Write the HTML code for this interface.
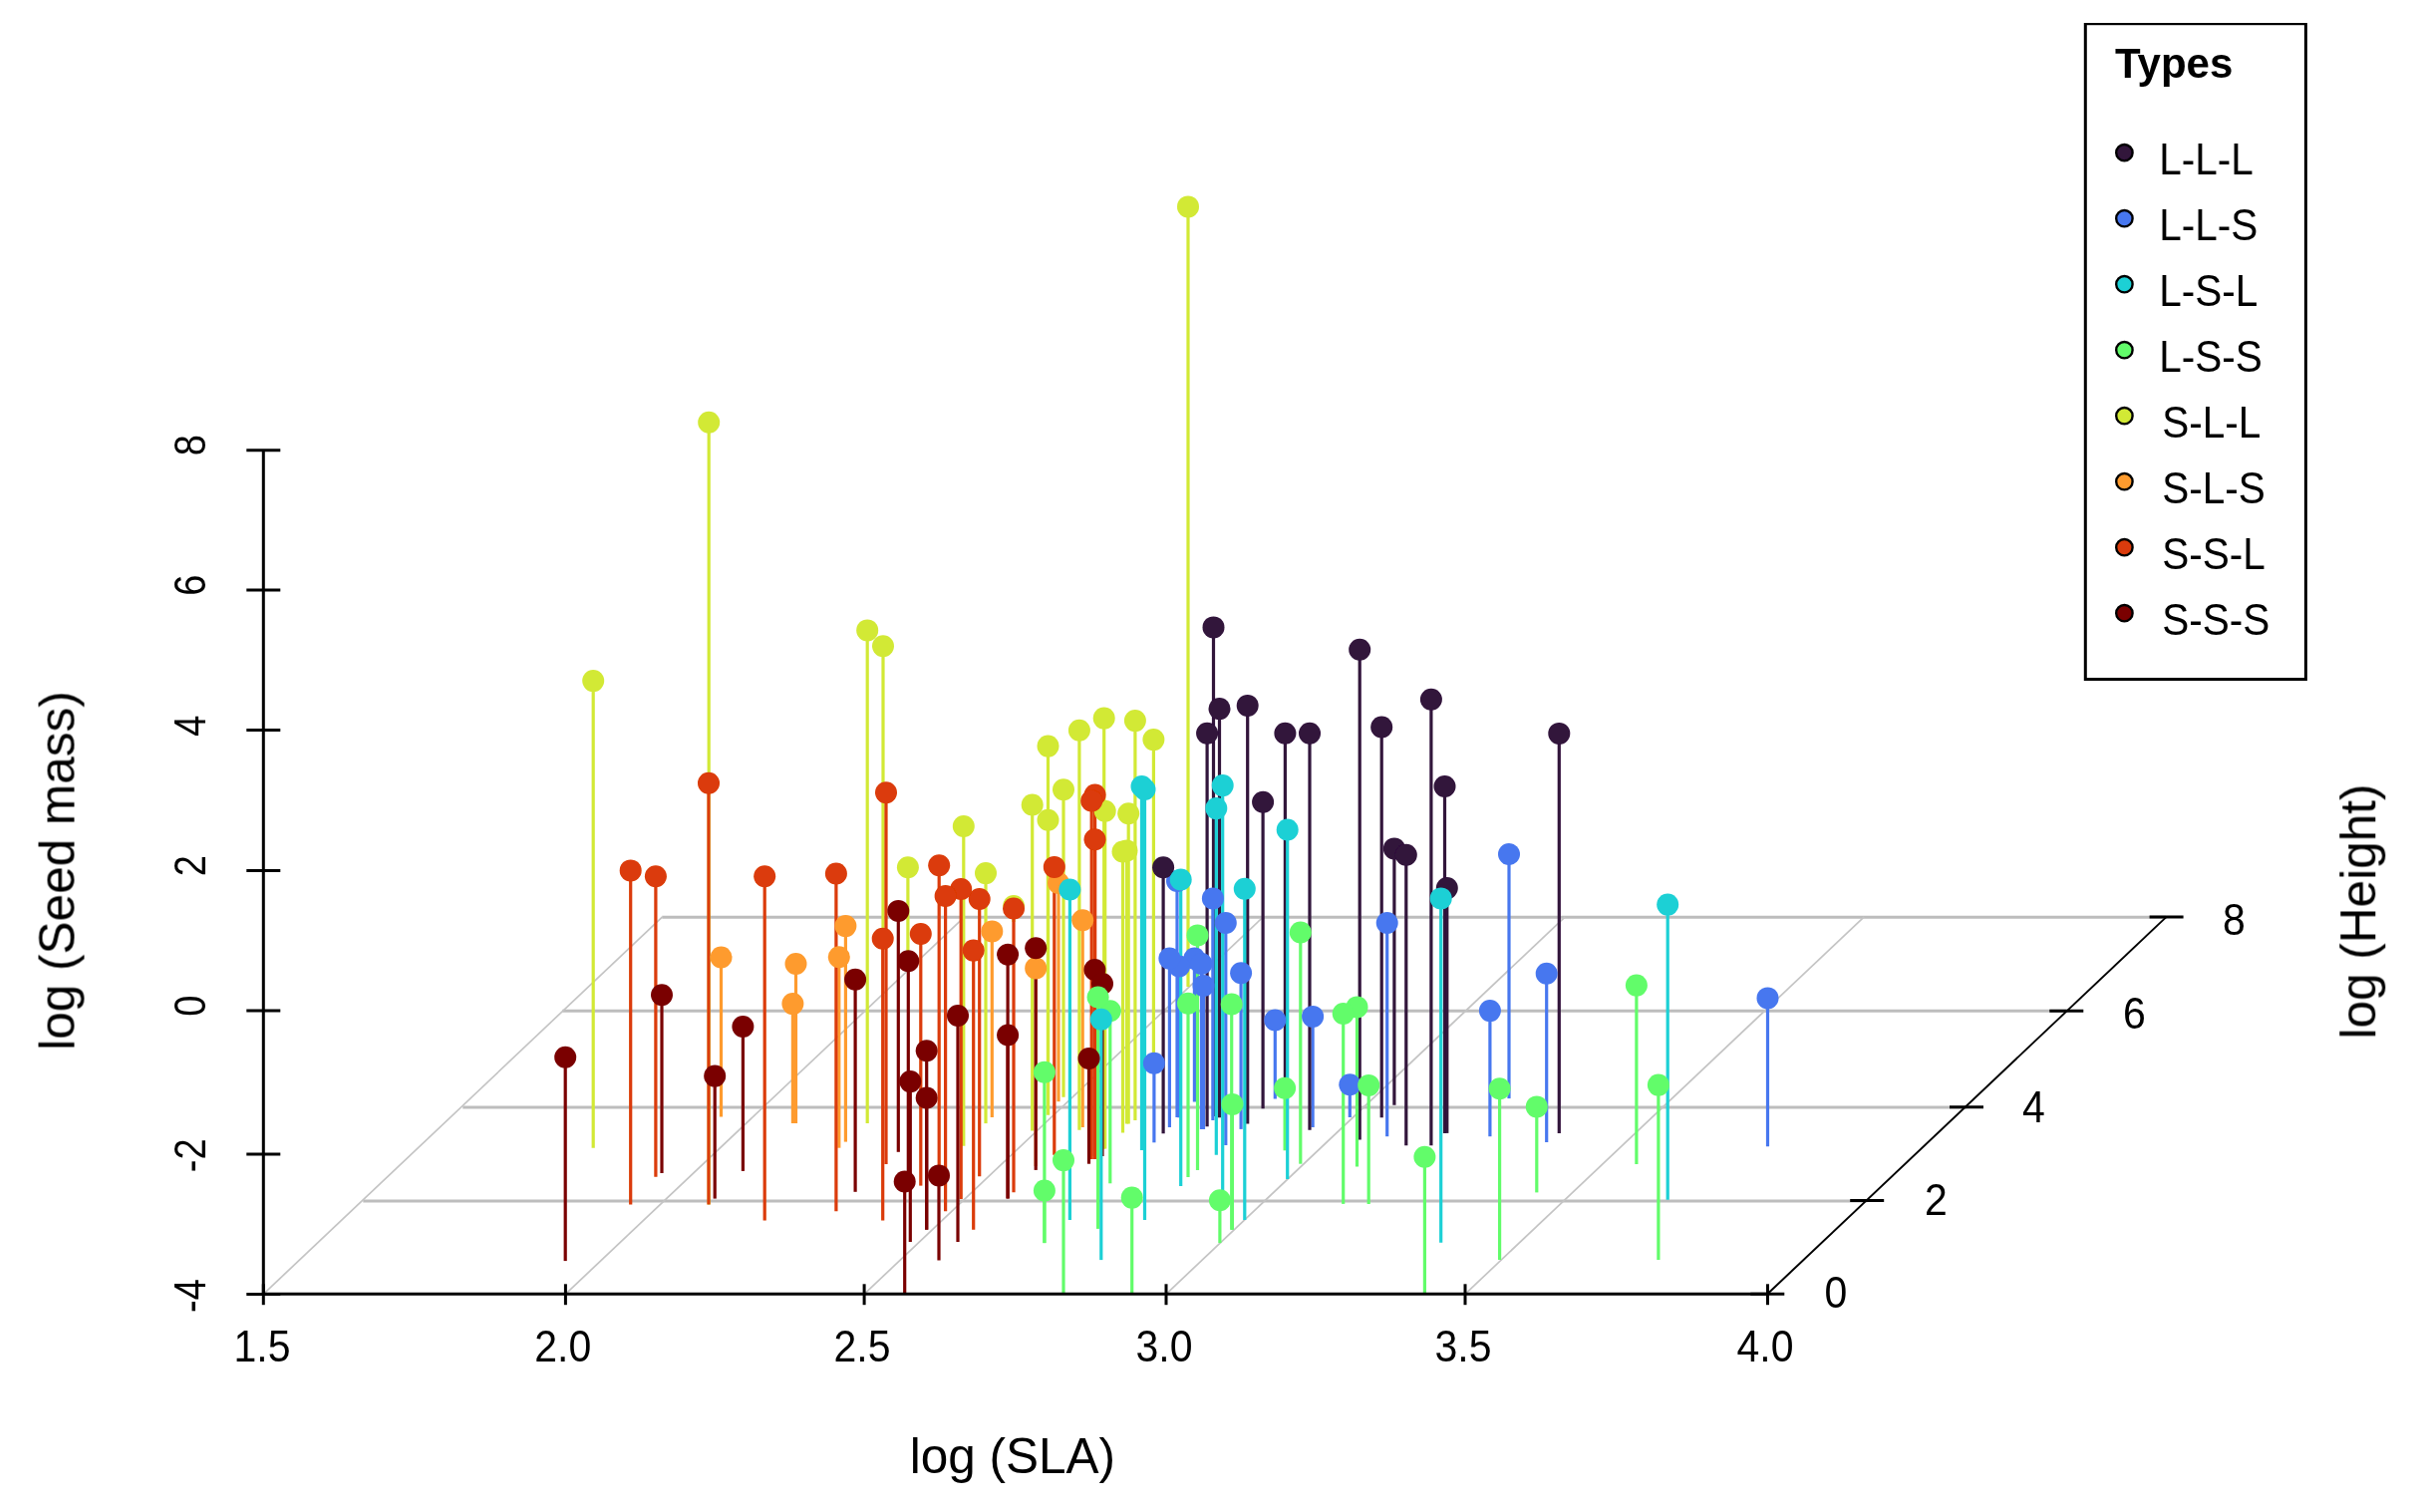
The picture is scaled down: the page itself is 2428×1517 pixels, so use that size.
<!DOCTYPE html>
<html><head><meta charset="utf-8"><style>
html,body{margin:0;padding:0;background:#fff;}
svg{display:block;}
text{font-family:"Liberation Sans", sans-serif;fill:#000;}
</style></head><body>
<svg width="2428" height="1517" viewBox="0 0 2428 1517">
<defs><filter id="soft" x="0" y="0" width="100%" height="100%"><feGaussianBlur stdDeviation="0.45"/></filter></defs>
<rect width="2428" height="1517" fill="#fff"/>
<g filter="url(#soft)">
<line x1="364.3" y1="1205.0" x2="1873.3" y2="1205.0" stroke="#BDBDBD" stroke-width="3.0"/>
<line x1="464.3" y1="1110.9" x2="1973.3" y2="1110.9" stroke="#BDBDBD" stroke-width="3.0"/>
<line x1="564.3" y1="1014.2" x2="2073.3" y2="1014.2" stroke="#BDBDBD" stroke-width="3.0"/>
<line x1="664.3" y1="920.3" x2="2173.3" y2="920.3" stroke="#BDBDBD" stroke-width="3.0"/>
<line x1="264.3" y1="1298.3" x2="664.6" y2="919.9" stroke="#C4C4C4" stroke-width="1.7"/>
<line x1="567.4" y1="1298.3" x2="967.7" y2="919.9" stroke="#C4C4C4" stroke-width="1.7"/>
<line x1="867.1" y1="1298.3" x2="1267.4" y2="919.9" stroke="#C4C4C4" stroke-width="1.7"/>
<line x1="1170.0" y1="1298.3" x2="1570.3" y2="919.9" stroke="#C4C4C4" stroke-width="1.7"/>
<line x1="1470.0" y1="1298.3" x2="1870.3" y2="919.9" stroke="#C4C4C4" stroke-width="1.7"/>
<line x1="1017" y1="909" x2="1017" y2="925" stroke="#D2E935" stroke-width="3.2"/>
<line x1="886" y1="648.3" x2="886" y2="935" stroke="#D2E935" stroke-width="3.2"/>
<line x1="910.9" y1="870.2" x2="910.9" y2="955" stroke="#D2E935" stroke-width="3.2"/>
<line x1="1192" y1="207.4" x2="1192" y2="990" stroke="#D2E935" stroke-width="3.2"/>
<line x1="1157.4" y1="742.1" x2="1157.4" y2="1060" stroke="#D2E935" stroke-width="3.2"/>
<line x1="1289.4" y1="735.7" x2="1289.4" y2="1090" stroke="#30123B" stroke-width="3.2"/>
<line x1="1067" y1="792.2" x2="1067" y2="1100.7" stroke="#D2E935" stroke-width="3.2"/>
<line x1="1514" y1="857" x2="1514" y2="1102.1" stroke="#4777EF" stroke-width="3.2"/>
<line x1="1279.3" y1="1023.5" x2="1279.3" y2="1102.5" stroke="#4777EF" stroke-width="3.2"/>
<line x1="1062" y1="886" x2="1062" y2="1105.2" stroke="#FE9B2D" stroke-width="3.2"/>
<line x1="1198.4" y1="961.6" x2="1198.4" y2="1105.5" stroke="#4777EF" stroke-width="3.2"/>
<line x1="1398.9" y1="851.4" x2="1398.9" y2="1108.8" stroke="#30123B" stroke-width="3.2"/>
<line x1="1267.1" y1="804.8" x2="1267.1" y2="1112.3" stroke="#30123B" stroke-width="3.2"/>
<line x1="1051.5" y1="748.6" x2="1051.5" y2="1118.6" stroke="#D2E935" stroke-width="3.2"/>
<line x1="1051.5" y1="822.8" x2="1051.5" y2="1118.6" stroke="#D2E935" stroke-width="3.2"/>
<line x1="1217.5" y1="629.4" x2="1217.5" y2="1120" stroke="#30123B" stroke-width="3.2"/>
<line x1="723.5" y1="960.5" x2="723.5" y2="1120.4" stroke="#FE9B2D" stroke-width="3.2"/>
<line x1="1354.3" y1="1088.2" x2="1354.3" y2="1121" stroke="#4777EF" stroke-width="3.2"/>
<line x1="1181" y1="884" x2="1181" y2="1121" stroke="#4777EF" stroke-width="3.2"/>
<line x1="995.3" y1="934.4" x2="995.3" y2="1121" stroke="#FE9B2D" stroke-width="3.2"/>
<line x1="1386.2" y1="729.5" x2="1386.2" y2="1121.2" stroke="#30123B" stroke-width="3.2"/>
<line x1="1223.5" y1="711.1" x2="1223.5" y2="1121.3" stroke="#30123B" stroke-width="3.2"/>
<line x1="1183" y1="969.5" x2="1183" y2="1121.3" stroke="#4777EF" stroke-width="3.2"/>
<line x1="1138.9" y1="723.1" x2="1138.9" y2="1123.9" stroke="#D2E935" stroke-width="3.2"/>
<line x1="1216.9" y1="901.4" x2="1216.9" y2="1124" stroke="#4777EF" stroke-width="3.2"/>
<line x1="798.5" y1="967" x2="798.5" y2="1127" stroke="#FE9B2D" stroke-width="3.2"/>
<line x1="795.4" y1="1007.1" x2="795.4" y2="1127" stroke="#FE9B2D" stroke-width="3.2"/>
<line x1="870.2" y1="632.4" x2="870.2" y2="1127.1" stroke="#D2E935" stroke-width="3.2"/>
<line x1="989" y1="876.1" x2="989" y2="1127.1" stroke="#D2E935" stroke-width="3.2"/>
<line x1="1251.7" y1="707.9" x2="1251.7" y2="1127.5" stroke="#30123B" stroke-width="3.2"/>
<line x1="1132.2" y1="816.3" x2="1132.2" y2="1127.5" stroke="#D2E935" stroke-width="3.2"/>
<line x1="1130.5" y1="853.5" x2="1130.5" y2="1127.5" stroke="#D2E935" stroke-width="3.2"/>
<line x1="1211.1" y1="735.7" x2="1211.1" y2="1130.2" stroke="#30123B" stroke-width="3.2"/>
<line x1="1173.4" y1="961.6" x2="1173.4" y2="1131" stroke="#4777EF" stroke-width="3.2"/>
<line x1="1317.1" y1="1019.9" x2="1317.1" y2="1131" stroke="#4777EF" stroke-width="3.2"/>
<line x1="1086.2" y1="923.3" x2="1086.2" y2="1131" stroke="#FE9B2D" stroke-width="3.2"/>
<line x1="1205.5" y1="967" x2="1205.5" y2="1132.9" stroke="#4777EF" stroke-width="3.2"/>
<line x1="1207.5" y1="989" x2="1207.5" y2="1132.9" stroke="#4777EF" stroke-width="3.2"/>
<line x1="1245.1" y1="976.2" x2="1245.1" y2="1132.9" stroke="#4777EF" stroke-width="3.2"/>
<line x1="1314" y1="735.7" x2="1314" y2="1133.8" stroke="#30123B" stroke-width="3.2"/>
<line x1="1082.9" y1="732.7" x2="1082.9" y2="1133.8" stroke="#D2E935" stroke-width="3.2"/>
<line x1="1035.7" y1="807.5" x2="1035.7" y2="1134.6" stroke="#D2E935" stroke-width="3.2"/>
<line x1="1126.5" y1="854.5" x2="1126.5" y2="1136.4" stroke="#D2E935" stroke-width="3.2"/>
<line x1="1564.3" y1="735.9" x2="1564.3" y2="1136.9" stroke="#30123B" stroke-width="3.2"/>
<line x1="1449.5" y1="789" x2="1449.5" y2="1136.9" stroke="#30123B" stroke-width="3.2"/>
<line x1="1451.8" y1="891.1" x2="1451.8" y2="1136.9" stroke="#30123B" stroke-width="3.2"/>
<line x1="1167.1" y1="870.2" x2="1167.1" y2="1137.3" stroke="#30123B" stroke-width="3.2"/>
<line x1="1391.7" y1="926" x2="1391.7" y2="1140.2" stroke="#4777EF" stroke-width="3.2"/>
<line x1="1494.9" y1="1014.1" x2="1494.9" y2="1140.2" stroke="#4777EF" stroke-width="3.2"/>
<line x1="1364.2" y1="651.7" x2="1364.2" y2="1143.6" stroke="#30123B" stroke-width="3.2"/>
<line x1="848.4" y1="929.1" x2="848.4" y2="1145.6" stroke="#FE9B2D" stroke-width="3.2"/>
<line x1="1551.7" y1="976.8" x2="1551.7" y2="1146" stroke="#4777EF" stroke-width="3.2"/>
<line x1="1157.9" y1="1066.8" x2="1157.9" y2="1146.3" stroke="#4777EF" stroke-width="3.2"/>
<line x1="1229.8" y1="926" x2="1229.8" y2="1149" stroke="#4777EF" stroke-width="3.2"/>
<line x1="1435.9" y1="701.7" x2="1435.9" y2="1149.3" stroke="#30123B" stroke-width="3.2"/>
<line x1="1410.8" y1="857.8" x2="1410.8" y2="1149.3" stroke="#30123B" stroke-width="3.2"/>
<line x1="966.8" y1="829" x2="966.8" y2="1149.7" stroke="#D2E935" stroke-width="3.2"/>
<line x1="1773.5" y1="1001.4" x2="1773.5" y2="1150.2" stroke="#4777EF" stroke-width="3.2"/>
<line x1="595.2" y1="683.1" x2="595.2" y2="1151.7" stroke="#D2E935" stroke-width="3.2"/>
<line x1="841.8" y1="960.3" x2="841.8" y2="1151.7" stroke="#FE9B2D" stroke-width="3.2"/>
<line x1="1107.7" y1="720.6" x2="1107.7" y2="1152.5" stroke="#D2E935" stroke-width="3.2"/>
<line x1="1108.7" y1="813.8" x2="1108.7" y2="1152.5" stroke="#D2E935" stroke-width="3.2"/>
<line x1="1145.5" y1="789" x2="1145.5" y2="1154" stroke="#1BD0D5" stroke-width="3.2"/>
<line x1="1289.1" y1="1091.8" x2="1289.1" y2="1154.3" stroke="#62FC6B" stroke-width="3.2"/>
<line x1="901.3" y1="913.9" x2="901.3" y2="1155.8" stroke="#7A0403" stroke-width="3.2"/>
<line x1="1220.3" y1="811.1" x2="1220.3" y2="1158.8" stroke="#1BD0D5" stroke-width="3.2"/>
<line x1="1057.8" y1="869.9" x2="1057.8" y2="1158.8" stroke="#DB3A07" stroke-width="3.2"/>
<line x1="1098.4" y1="973" x2="1098.4" y2="1160" stroke="#7A0403" stroke-width="3.2"/>
<line x1="1106" y1="987" x2="1106" y2="1160" stroke="#7A0403" stroke-width="3.2"/>
<line x1="1098.6" y1="797.5" x2="1098.6" y2="1163" stroke="#DB3A07" stroke-width="3.2"/>
<line x1="1095.2" y1="803.5" x2="1095.2" y2="1163" stroke="#DB3A07" stroke-width="3.2"/>
<line x1="1098.5" y1="842.2" x2="1098.5" y2="1163" stroke="#DB3A07" stroke-width="3.2"/>
<line x1="1304.8" y1="935.5" x2="1304.8" y2="1167.7" stroke="#62FC6B" stroke-width="3.2"/>
<line x1="1092.5" y1="1062" x2="1092.5" y2="1167.7" stroke="#7A0403" stroke-width="3.2"/>
<line x1="1641.9" y1="988.6" x2="1641.9" y2="1168" stroke="#62FC6B" stroke-width="3.2"/>
<line x1="889" y1="795.2" x2="889" y2="1168" stroke="#DB3A07" stroke-width="3.2"/>
<line x1="1039.2" y1="971.4" x2="1039.2" y2="1170" stroke="#FE9B2D" stroke-width="3.2"/>
<line x1="942.2" y1="868.3" x2="942.2" y2="1170" stroke="#DB3A07" stroke-width="3.2"/>
<line x1="1361.5" y1="1010.4" x2="1361.5" y2="1170.4" stroke="#62FC6B" stroke-width="3.2"/>
<line x1="1039.2" y1="951.3" x2="1039.2" y2="1173.9" stroke="#7A0403" stroke-width="3.2"/>
<line x1="1201.5" y1="938.4" x2="1201.5" y2="1174" stroke="#62FC6B" stroke-width="3.2"/>
<line x1="745.4" y1="1030" x2="745.4" y2="1174.9" stroke="#7A0403" stroke-width="3.2"/>
<line x1="664" y1="998.2" x2="664" y2="1177" stroke="#7A0403" stroke-width="3.2"/>
<line x1="982.7" y1="902" x2="982.7" y2="1180.3" stroke="#DB3A07" stroke-width="3.2"/>
<line x1="657.9" y1="879.3" x2="657.9" y2="1180.8" stroke="#DB3A07" stroke-width="3.2"/>
<line x1="1192" y1="1006.8" x2="1192" y2="1181" stroke="#62FC6B" stroke-width="3.2"/>
<line x1="1291.7" y1="832.5" x2="1291.7" y2="1182.9" stroke="#1BD0D5" stroke-width="3.2"/>
<line x1="911.3" y1="964.2" x2="911.3" y2="1185" stroke="#7A0403" stroke-width="3.2"/>
<line x1="1113.8" y1="1014.3" x2="1113.8" y2="1187.3" stroke="#62FC6B" stroke-width="3.2"/>
<line x1="923.8" y1="937" x2="923.8" y2="1189.6" stroke="#DB3A07" stroke-width="3.2"/>
<line x1="1184.7" y1="882.5" x2="1184.7" y2="1190" stroke="#1BD0D5" stroke-width="3.2"/>
<line x1="1226.7" y1="788.1" x2="1226.7" y2="1195.4" stroke="#1BD0D5" stroke-width="3.2"/>
<line x1="858.1" y1="982.7" x2="858.1" y2="1195.8" stroke="#7A0403" stroke-width="3.2"/>
<line x1="1017" y1="911.5" x2="1017" y2="1196.3" stroke="#DB3A07" stroke-width="3.2"/>
<line x1="1541.8" y1="1110.4" x2="1541.8" y2="1196.4" stroke="#62FC6B" stroke-width="3.2"/>
<line x1="1011.1" y1="957.7" x2="1011.1" y2="1202.5" stroke="#7A0403" stroke-width="3.2"/>
<line x1="1011.1" y1="1038.5" x2="1011.1" y2="1202.5" stroke="#7A0403" stroke-width="3.2"/>
<line x1="717.2" y1="1079.6" x2="717.2" y2="1202.6" stroke="#7A0403" stroke-width="3.2"/>
<line x1="964.2" y1="892" x2="964.2" y2="1203" stroke="#DB3A07" stroke-width="3.2"/>
<line x1="1673.2" y1="907.6" x2="1673.2" y2="1203.8" stroke="#1BD0D5" stroke-width="3.2"/>
<line x1="1347.7" y1="1017" x2="1347.7" y2="1207.9" stroke="#62FC6B" stroke-width="3.2"/>
<line x1="1373.2" y1="1088.9" x2="1373.2" y2="1208" stroke="#62FC6B" stroke-width="3.2"/>
<line x1="711.2" y1="423.7" x2="711.2" y2="1208.4" stroke="#D2E935" stroke-width="3.2"/>
<line x1="711" y1="785.7" x2="711" y2="1208.4" stroke="#DB3A07" stroke-width="3.2"/>
<line x1="632.7" y1="873.4" x2="632.7" y2="1208.4" stroke="#DB3A07" stroke-width="3.2"/>
<line x1="838.9" y1="876.5" x2="838.9" y2="1215.3" stroke="#DB3A07" stroke-width="3.2"/>
<line x1="948.6" y1="899" x2="948.6" y2="1215.3" stroke="#DB3A07" stroke-width="3.2"/>
<line x1="1073.4" y1="892.5" x2="1073.4" y2="1223.9" stroke="#1BD0D5" stroke-width="3.2"/>
<line x1="1148.5" y1="792" x2="1148.5" y2="1224" stroke="#1BD0D5" stroke-width="3.2"/>
<line x1="1248.8" y1="891.8" x2="1248.8" y2="1224" stroke="#1BD0D5" stroke-width="3.2"/>
<line x1="767.2" y1="879.3" x2="767.2" y2="1224.4" stroke="#DB3A07" stroke-width="3.2"/>
<line x1="885.7" y1="941.7" x2="885.7" y2="1224.5" stroke="#DB3A07" stroke-width="3.2"/>
<line x1="1101.6" y1="1000.5" x2="1101.6" y2="1232.9" stroke="#62FC6B" stroke-width="3.2"/>
<line x1="976.7" y1="953.6" x2="976.7" y2="1233.7" stroke="#DB3A07" stroke-width="3.2"/>
<line x1="929.7" y1="1054.3" x2="929.7" y2="1233.7" stroke="#7A0403" stroke-width="3.2"/>
<line x1="929.7" y1="1101.5" x2="929.7" y2="1233.7" stroke="#7A0403" stroke-width="3.2"/>
<line x1="1235.7" y1="1007.5" x2="1235.7" y2="1233.8" stroke="#62FC6B" stroke-width="3.2"/>
<line x1="1236.4" y1="1107.9" x2="1236.4" y2="1233.8" stroke="#62FC6B" stroke-width="3.2"/>
<line x1="913.3" y1="1085.1" x2="913.3" y2="1246" stroke="#7A0403" stroke-width="3.2"/>
<line x1="961" y1="1019" x2="961" y2="1246" stroke="#7A0403" stroke-width="3.2"/>
<line x1="1445.7" y1="901.4" x2="1445.7" y2="1246.8" stroke="#1BD0D5" stroke-width="3.2"/>
<line x1="1047.9" y1="1075.7" x2="1047.9" y2="1247.1" stroke="#62FC6B" stroke-width="3.2"/>
<line x1="1047.9" y1="1194.5" x2="1047.9" y2="1247.1" stroke="#62FC6B" stroke-width="3.2"/>
<line x1="1223.9" y1="1204.3" x2="1223.9" y2="1247.1" stroke="#62FC6B" stroke-width="3.2"/>
<line x1="1504.6" y1="1092.2" x2="1504.6" y2="1264" stroke="#62FC6B" stroke-width="3.2"/>
<line x1="1663.9" y1="1088.6" x2="1663.9" y2="1264" stroke="#62FC6B" stroke-width="3.2"/>
<line x1="1104.8" y1="1022.8" x2="1104.8" y2="1264.1" stroke="#1BD0D5" stroke-width="3.2"/>
<line x1="942" y1="1179.4" x2="942" y2="1264.5" stroke="#7A0403" stroke-width="3.2"/>
<line x1="567.2" y1="1060.7" x2="567.2" y2="1265.1" stroke="#7A0403" stroke-width="3.2"/>
<line x1="907.7" y1="1185.5" x2="907.7" y2="1297.3" stroke="#7A0403" stroke-width="3.2"/>
<line x1="1429.4" y1="1160.8" x2="1429.4" y2="1298.8" stroke="#62FC6B" stroke-width="3.2"/>
<line x1="1067" y1="1164.1" x2="1067" y2="1298.9" stroke="#62FC6B" stroke-width="3.2"/>
<line x1="1135.7" y1="1201.6" x2="1135.7" y2="1298.9" stroke="#62FC6B" stroke-width="3.2"/>
<circle cx="1017" cy="909" r="11.0" fill="#D2E935"/>
<circle cx="886" cy="648.3" r="11.0" fill="#D2E935"/>
<circle cx="910.9" cy="870.2" r="11.0" fill="#D2E935"/>
<circle cx="1192" cy="207.4" r="11.0" fill="#D2E935"/>
<circle cx="1157.4" cy="742.1" r="11.0" fill="#D2E935"/>
<circle cx="1289.4" cy="735.7" r="11.0" fill="#30123B"/>
<circle cx="1067" cy="792.2" r="11.0" fill="#D2E935"/>
<circle cx="1514" cy="857" r="11.0" fill="#4777EF"/>
<circle cx="1279.3" cy="1023.5" r="11.0" fill="#4777EF"/>
<circle cx="1062" cy="886" r="11.0" fill="#FE9B2D"/>
<circle cx="1198.4" cy="961.6" r="11.0" fill="#4777EF"/>
<circle cx="1398.9" cy="851.4" r="11.0" fill="#30123B"/>
<circle cx="1267.1" cy="804.8" r="11.0" fill="#30123B"/>
<circle cx="1051.5" cy="748.6" r="11.0" fill="#D2E935"/>
<circle cx="1051.5" cy="822.8" r="11.0" fill="#D2E935"/>
<circle cx="1217.5" cy="629.4" r="11.0" fill="#30123B"/>
<circle cx="723.5" cy="960.5" r="11.0" fill="#FE9B2D"/>
<circle cx="1354.3" cy="1088.2" r="11.0" fill="#4777EF"/>
<circle cx="1181" cy="884" r="11.0" fill="#4777EF"/>
<circle cx="995.3" cy="934.4" r="11.0" fill="#FE9B2D"/>
<circle cx="1386.2" cy="729.5" r="11.0" fill="#30123B"/>
<circle cx="1223.5" cy="711.1" r="11.0" fill="#30123B"/>
<circle cx="1183" cy="969.5" r="11.0" fill="#4777EF"/>
<circle cx="1138.9" cy="723.1" r="11.0" fill="#D2E935"/>
<circle cx="1216.9" cy="901.4" r="11.0" fill="#4777EF"/>
<circle cx="798.5" cy="967" r="11.0" fill="#FE9B2D"/>
<circle cx="795.4" cy="1007.1" r="11.0" fill="#FE9B2D"/>
<circle cx="870.2" cy="632.4" r="11.0" fill="#D2E935"/>
<circle cx="989" cy="876.1" r="11.0" fill="#D2E935"/>
<circle cx="1251.7" cy="707.9" r="11.0" fill="#30123B"/>
<circle cx="1132.2" cy="816.3" r="11.0" fill="#D2E935"/>
<circle cx="1130.5" cy="853.5" r="11.0" fill="#D2E935"/>
<circle cx="1211.1" cy="735.7" r="11.0" fill="#30123B"/>
<circle cx="1173.4" cy="961.6" r="11.0" fill="#4777EF"/>
<circle cx="1317.1" cy="1019.9" r="11.0" fill="#4777EF"/>
<circle cx="1086.2" cy="923.3" r="11.0" fill="#FE9B2D"/>
<circle cx="1205.5" cy="967" r="11.0" fill="#4777EF"/>
<circle cx="1207.5" cy="989" r="11.0" fill="#4777EF"/>
<circle cx="1245.1" cy="976.2" r="11.0" fill="#4777EF"/>
<circle cx="1314" cy="735.7" r="11.0" fill="#30123B"/>
<circle cx="1082.9" cy="732.7" r="11.0" fill="#D2E935"/>
<circle cx="1035.7" cy="807.5" r="11.0" fill="#D2E935"/>
<circle cx="1126.5" cy="854.5" r="11.0" fill="#D2E935"/>
<circle cx="1564.3" cy="735.9" r="11.0" fill="#30123B"/>
<circle cx="1449.5" cy="789" r="11.0" fill="#30123B"/>
<circle cx="1451.8" cy="891.1" r="11.0" fill="#30123B"/>
<circle cx="1167.1" cy="870.2" r="11.0" fill="#30123B"/>
<circle cx="1391.7" cy="926" r="11.0" fill="#4777EF"/>
<circle cx="1494.9" cy="1014.1" r="11.0" fill="#4777EF"/>
<circle cx="1364.2" cy="651.7" r="11.0" fill="#30123B"/>
<circle cx="848.4" cy="929.1" r="11.0" fill="#FE9B2D"/>
<circle cx="1551.7" cy="976.8" r="11.0" fill="#4777EF"/>
<circle cx="1157.9" cy="1066.8" r="11.0" fill="#4777EF"/>
<circle cx="1229.8" cy="926" r="11.0" fill="#4777EF"/>
<circle cx="1435.9" cy="701.7" r="11.0" fill="#30123B"/>
<circle cx="1410.8" cy="857.8" r="11.0" fill="#30123B"/>
<circle cx="966.8" cy="829" r="11.0" fill="#D2E935"/>
<circle cx="1773.5" cy="1001.4" r="11.0" fill="#4777EF"/>
<circle cx="595.2" cy="683.1" r="11.0" fill="#D2E935"/>
<circle cx="841.8" cy="960.3" r="11.0" fill="#FE9B2D"/>
<circle cx="1107.7" cy="720.6" r="11.0" fill="#D2E935"/>
<circle cx="1108.7" cy="813.8" r="11.0" fill="#D2E935"/>
<circle cx="1145.5" cy="789" r="11.0" fill="#1BD0D5"/>
<circle cx="1289.1" cy="1091.8" r="11.0" fill="#62FC6B"/>
<circle cx="901.3" cy="913.9" r="11.0" fill="#7A0403"/>
<circle cx="1220.3" cy="811.1" r="11.0" fill="#1BD0D5"/>
<circle cx="1057.8" cy="869.9" r="11.0" fill="#DB3A07"/>
<circle cx="1098.4" cy="973" r="11.0" fill="#7A0403"/>
<circle cx="1106" cy="987" r="11.0" fill="#7A0403"/>
<circle cx="1098.6" cy="797.5" r="11.0" fill="#DB3A07"/>
<circle cx="1095.2" cy="803.5" r="11.0" fill="#DB3A07"/>
<circle cx="1098.5" cy="842.2" r="11.0" fill="#DB3A07"/>
<circle cx="1304.8" cy="935.5" r="11.0" fill="#62FC6B"/>
<circle cx="1092.5" cy="1062" r="11.0" fill="#7A0403"/>
<circle cx="1641.9" cy="988.6" r="11.0" fill="#62FC6B"/>
<circle cx="889" cy="795.2" r="11.0" fill="#DB3A07"/>
<circle cx="1039.2" cy="971.4" r="11.0" fill="#FE9B2D"/>
<circle cx="942.2" cy="868.3" r="11.0" fill="#DB3A07"/>
<circle cx="1361.5" cy="1010.4" r="11.0" fill="#62FC6B"/>
<circle cx="1039.2" cy="951.3" r="11.0" fill="#7A0403"/>
<circle cx="1201.5" cy="938.4" r="11.0" fill="#62FC6B"/>
<circle cx="745.4" cy="1030" r="11.0" fill="#7A0403"/>
<circle cx="664" cy="998.2" r="11.0" fill="#7A0403"/>
<circle cx="982.7" cy="902" r="11.0" fill="#DB3A07"/>
<circle cx="657.9" cy="879.3" r="11.0" fill="#DB3A07"/>
<circle cx="1192" cy="1006.8" r="11.0" fill="#62FC6B"/>
<circle cx="1291.7" cy="832.5" r="11.0" fill="#1BD0D5"/>
<circle cx="911.3" cy="964.2" r="11.0" fill="#7A0403"/>
<circle cx="1113.8" cy="1014.3" r="11.0" fill="#62FC6B"/>
<circle cx="923.8" cy="937" r="11.0" fill="#DB3A07"/>
<circle cx="1184.7" cy="882.5" r="11.0" fill="#1BD0D5"/>
<circle cx="1226.7" cy="788.1" r="11.0" fill="#1BD0D5"/>
<circle cx="858.1" cy="982.7" r="11.0" fill="#7A0403"/>
<circle cx="1017" cy="911.5" r="11.0" fill="#DB3A07"/>
<circle cx="1541.8" cy="1110.4" r="11.0" fill="#62FC6B"/>
<circle cx="1011.1" cy="957.7" r="11.0" fill="#7A0403"/>
<circle cx="1011.1" cy="1038.5" r="11.0" fill="#7A0403"/>
<circle cx="717.2" cy="1079.6" r="11.0" fill="#7A0403"/>
<circle cx="964.2" cy="892" r="11.0" fill="#DB3A07"/>
<circle cx="1673.2" cy="907.6" r="11.0" fill="#1BD0D5"/>
<circle cx="1347.7" cy="1017" r="11.0" fill="#62FC6B"/>
<circle cx="1373.2" cy="1088.9" r="11.0" fill="#62FC6B"/>
<circle cx="711.2" cy="423.7" r="11.0" fill="#D2E935"/>
<circle cx="711" cy="785.7" r="11.0" fill="#DB3A07"/>
<circle cx="632.7" cy="873.4" r="11.0" fill="#DB3A07"/>
<circle cx="838.9" cy="876.5" r="11.0" fill="#DB3A07"/>
<circle cx="948.6" cy="899" r="11.0" fill="#DB3A07"/>
<circle cx="1073.4" cy="892.5" r="11.0" fill="#1BD0D5"/>
<circle cx="1148.5" cy="792" r="11.0" fill="#1BD0D5"/>
<circle cx="1248.8" cy="891.8" r="11.0" fill="#1BD0D5"/>
<circle cx="767.2" cy="879.3" r="11.0" fill="#DB3A07"/>
<circle cx="885.7" cy="941.7" r="11.0" fill="#DB3A07"/>
<circle cx="1101.6" cy="1000.5" r="11.0" fill="#62FC6B"/>
<circle cx="976.7" cy="953.6" r="11.0" fill="#DB3A07"/>
<circle cx="929.7" cy="1054.3" r="11.0" fill="#7A0403"/>
<circle cx="929.7" cy="1101.5" r="11.0" fill="#7A0403"/>
<circle cx="1235.7" cy="1007.5" r="11.0" fill="#62FC6B"/>
<circle cx="1236.4" cy="1107.9" r="11.0" fill="#62FC6B"/>
<circle cx="913.3" cy="1085.1" r="11.0" fill="#7A0403"/>
<circle cx="961" cy="1019" r="11.0" fill="#7A0403"/>
<circle cx="1445.7" cy="901.4" r="11.0" fill="#1BD0D5"/>
<circle cx="1047.9" cy="1075.7" r="11.0" fill="#62FC6B"/>
<circle cx="1047.9" cy="1194.5" r="11.0" fill="#62FC6B"/>
<circle cx="1223.9" cy="1204.3" r="11.0" fill="#62FC6B"/>
<circle cx="1504.6" cy="1092.2" r="11.0" fill="#62FC6B"/>
<circle cx="1663.9" cy="1088.6" r="11.0" fill="#62FC6B"/>
<circle cx="1104.8" cy="1022.8" r="11.0" fill="#1BD0D5"/>
<circle cx="942" cy="1179.4" r="11.0" fill="#7A0403"/>
<circle cx="567.2" cy="1060.7" r="11.0" fill="#7A0403"/>
<circle cx="907.7" cy="1185.5" r="11.0" fill="#7A0403"/>
<circle cx="1429.4" cy="1160.8" r="11.0" fill="#62FC6B"/>
<circle cx="1067" cy="1164.1" r="11.0" fill="#62FC6B"/>
<circle cx="1135.7" cy="1201.6" r="11.0" fill="#62FC6B"/>
<line x1="264.3" y1="451.7" x2="264.3" y2="1298.3" stroke="#000" stroke-width="3.0"/>
<line x1="247.3" y1="451.7" x2="281.3" y2="451.7" stroke="#000" stroke-width="3.0"/>
<line x1="247.3" y1="592.0" x2="281.3" y2="592.0" stroke="#000" stroke-width="3.0"/>
<line x1="247.3" y1="732.6" x2="281.3" y2="732.6" stroke="#000" stroke-width="3.0"/>
<line x1="247.3" y1="873.5" x2="281.3" y2="873.5" stroke="#000" stroke-width="3.0"/>
<line x1="247.3" y1="1014.1" x2="281.3" y2="1014.1" stroke="#000" stroke-width="3.0"/>
<line x1="247.3" y1="1158.0" x2="281.3" y2="1158.0" stroke="#000" stroke-width="3.0"/>
<line x1="247.3" y1="1298.4" x2="281.3" y2="1298.4" stroke="#000" stroke-width="3.0"/>
<line x1="264.3" y1="1298.3" x2="1773.3" y2="1298.3" stroke="#000" stroke-width="3.0"/>
<line x1="264.3" y1="1288.3" x2="264.3" y2="1309.2" stroke="#000" stroke-width="3.0"/>
<line x1="567.4" y1="1288.3" x2="567.4" y2="1309.2" stroke="#000" stroke-width="3.0"/>
<line x1="867.1" y1="1288.3" x2="867.1" y2="1309.2" stroke="#000" stroke-width="3.0"/>
<line x1="1170.0" y1="1288.3" x2="1170.0" y2="1309.2" stroke="#000" stroke-width="3.0"/>
<line x1="1470.0" y1="1288.3" x2="1470.0" y2="1309.2" stroke="#000" stroke-width="3.0"/>
<line x1="1773.5" y1="1288.3" x2="1773.5" y2="1309.2" stroke="#000" stroke-width="3.0"/>
<line x1="1773.3" y1="1298.3" x2="2173.6" y2="919.9" stroke="#000" stroke-width="1.9"/>
<line x1="1756.3" y1="1298.3" x2="1790.3" y2="1298.3" stroke="#000" stroke-width="3.0"/>
<line x1="1856.2" y1="1204.5" x2="1890.2" y2="1204.5" stroke="#000" stroke-width="3.0"/>
<line x1="1956.0" y1="1110.7" x2="1990.0" y2="1110.7" stroke="#000" stroke-width="3.0"/>
<line x1="2056.3" y1="1014.2" x2="2090.3" y2="1014.2" stroke="#000" stroke-width="3.0"/>
<line x1="2156.6" y1="919.9" x2="2190.6" y2="919.9" stroke="#000" stroke-width="3.0"/>
<text transform="translate(263.0,1366.0) scale(1,1.1)" font-size="41" text-anchor="middle" font-weight="normal">1.5</text>
<text transform="translate(564.8,1366.0) scale(1,1.1)" font-size="41" text-anchor="middle" font-weight="normal">2.0</text>
<text transform="translate(865.0,1366.0) scale(1,1.1)" font-size="41" text-anchor="middle" font-weight="normal">2.5</text>
<text transform="translate(1168.0,1366.0) scale(1,1.1)" font-size="41" text-anchor="middle" font-weight="normal">3.0</text>
<text transform="translate(1468.0,1366.0) scale(1,1.1)" font-size="41" text-anchor="middle" font-weight="normal">3.5</text>
<text transform="translate(1771.0,1366.0) scale(1,1.1)" font-size="41" text-anchor="middle" font-weight="normal">4.0</text>
<text transform="translate(206.3,446.8) rotate(-90) scale(1,1.19)" font-size="38" text-anchor="middle">8</text>
<text transform="translate(206.3,587.3) rotate(-90) scale(1,1.19)" font-size="38" text-anchor="middle">6</text>
<text transform="translate(206.3,728.3) rotate(-90) scale(1,1.19)" font-size="38" text-anchor="middle">4</text>
<text transform="translate(206.3,868.7) rotate(-90) scale(1,1.19)" font-size="38" text-anchor="middle">2</text>
<text transform="translate(206.3,1009.1) rotate(-90) scale(1,1.19)" font-size="38" text-anchor="middle">0</text>
<text transform="translate(206.3,1159.3) rotate(-90) scale(1,1.19)" font-size="38" text-anchor="middle">-2</text>
<text transform="translate(206.3,1300.0) rotate(-90) scale(1,1.19)" font-size="38" text-anchor="middle">-4</text>
<text transform="translate(1842,1312.1) scale(1,1.1)" font-size="41" text-anchor="middle" font-weight="normal">0</text>
<text transform="translate(1942.5,1219.0) scale(1,1.1)" font-size="41" text-anchor="middle" font-weight="normal">2</text>
<text transform="translate(2040.5,1125.5) scale(1,1.1)" font-size="41" text-anchor="middle" font-weight="normal">4</text>
<text transform="translate(2141.5,1031.5) scale(1,1.1)" font-size="41" text-anchor="middle" font-weight="normal">6</text>
<text transform="translate(2241.5,938.0) scale(1,1.1)" font-size="41" text-anchor="middle" font-weight="normal">8</text>
<text transform="translate(1015.9,1478.0) scale(1,1.0)" font-size="49.5" text-anchor="middle" font-weight="normal">log (SLA)</text>
<text transform="translate(74.5,873.5) rotate(-90) scale(1,1.0)" font-size="49.5" text-anchor="middle">log (Seed mass)</text>
<text transform="translate(2383.3,914.5) rotate(-90) scale(1,1.0)" font-size="49.5" text-anchor="middle">log (Height)</text>
<rect x="2092.3" y="23.7" width="221.1" height="657.8" fill="#fff" stroke="#000" stroke-width="3"/>
<text transform="translate(2122,77.8) scale(1,1.0)" font-size="42" text-anchor="start" font-weight="bold">Types</text>
<circle cx="2131.4" cy="153.2" r="8.2" fill="#30123B" stroke="#000" stroke-width="2.4"/>
<text transform="translate(2166.2,175.29999999999998) scale(1,1.08)" font-size="40.5" text-anchor="start" font-weight="normal">L-L-L</text>
<circle cx="2131.4" cy="219.2" r="8.2" fill="#4777EF" stroke="#000" stroke-width="2.4"/>
<text transform="translate(2166.2,241.29999999999998) scale(1,1.08)" font-size="40.5" text-anchor="start" font-weight="normal">L-L-S</text>
<circle cx="2131.4" cy="285.2" r="8.2" fill="#1BD0D5" stroke="#000" stroke-width="2.4"/>
<text transform="translate(2166.2,307.3) scale(1,1.08)" font-size="40.5" text-anchor="start" font-weight="normal">L-S-L</text>
<circle cx="2131.4" cy="351.2" r="8.2" fill="#62FC6B" stroke="#000" stroke-width="2.4"/>
<text transform="translate(2166.2,373.3) scale(1,1.08)" font-size="40.5" text-anchor="start" font-weight="normal">L-S-S</text>
<circle cx="2131.4" cy="417.2" r="8.2" fill="#D2E935" stroke="#000" stroke-width="2.4"/>
<text transform="translate(2169.2,439.3) scale(1,1.08)" font-size="40.5" text-anchor="start" font-weight="normal">S-L-L</text>
<circle cx="2131.4" cy="483.2" r="8.2" fill="#FE9B2D" stroke="#000" stroke-width="2.4"/>
<text transform="translate(2169.2,505.3) scale(1,1.08)" font-size="40.5" text-anchor="start" font-weight="normal">S-L-S</text>
<circle cx="2131.4" cy="549.2" r="8.2" fill="#DB3A07" stroke="#000" stroke-width="2.4"/>
<text transform="translate(2169.2,571.3000000000001) scale(1,1.08)" font-size="40.5" text-anchor="start" font-weight="normal">S-S-L</text>
<circle cx="2131.4" cy="615.2" r="8.2" fill="#7A0403" stroke="#000" stroke-width="2.4"/>
<text transform="translate(2169.2,637.3000000000001) scale(1,1.08)" font-size="40.5" text-anchor="start" font-weight="normal">S-S-S</text>
</g>
</svg>
</body></html>
